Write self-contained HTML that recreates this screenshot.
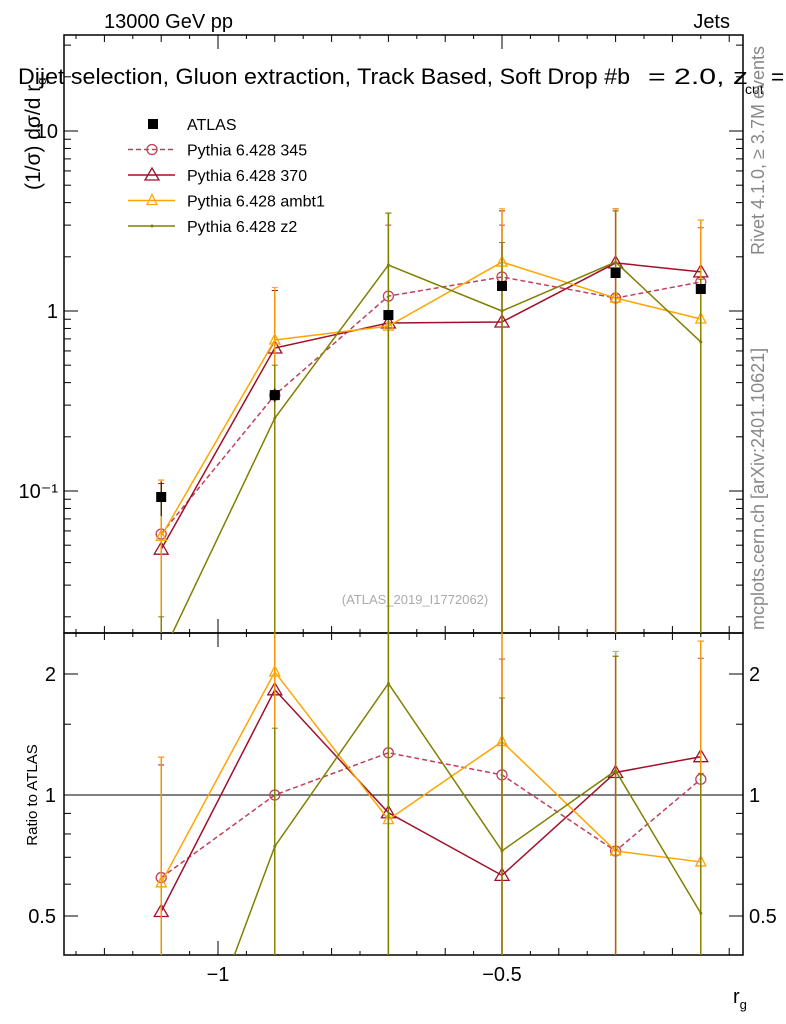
<!DOCTYPE html>
<html><head><meta charset="utf-8"><style>
html,body{margin:0;background:#fff;overflow:hidden;width:786px;height:1024px;}
svg{display:block;font-family:"Liberation Sans",sans-serif;}
</style></head><body>
<svg id="c" width="786" height="1024" viewBox="0 0 786 1024">
<text x="104" y="28" font-size="20">13000 GeV pp</text>
<text x="730" y="28" font-size="20" text-anchor="end">Jets</text>
<g font-size="22.5">
<text x="18" y="84" textLength="612" lengthAdjust="spacingAndGlyphs">Dijet selection, Gluon extraction, Track Based, Soft Drop #b</text>
<text x="648" y="84" textLength="100" lengthAdjust="spacingAndGlyphs">= 2.0, z</text>
<text x="745" y="94" font-size="14">cut</text>
<text x="771" y="84">=</text>
</g>
<text transform="translate(40,190) rotate(-90)" font-size="21">(1/σ) dσ/d r<tspan font-size="13" dy="6">g</tspan></text>
<text transform="translate(764,255) rotate(-90)" font-size="18" fill="#888">Rivet 4.1.0, ≥ 3.7M events</text>
<text transform="translate(764,630) rotate(-90)" font-size="18" fill="#888">mcplots.cern.ch [arXiv:2401.10621]</text>
<text x="415" y="604" font-size="13" fill="#aaa" text-anchor="middle">(ATLAS_2019_I1772062)</text>
<text transform="translate(37,795) rotate(-90)" font-size="15" text-anchor="middle">Ratio to ATLAS</text>
<text x="733" y="1003" font-size="20">r<tspan font-size="13" dy="6">g</tspan></text>
<g id="plot"></g>
</svg>
<script>
const categories=[-1.1,-0.9,-0.7,-0.5,-0.3,-0.15];
const atlas=[0.0926,0.341,0.95,1.377,1.626,1.325];
const atlasErr=[0.02,0.03,0.06,0.08,0.09,0.08];
const p345=[0.0577,0.341,1.21,1.545,1.18,1.45];
const p345Up=[0.115,1.3,3.0,3.0,3.6,2.9];
const p370=[0.0475,0.623,0.858,0.869,1.85,1.65];
const p370Up=[0.11,1.3,3.5,3.6,3.7,3.2];
const ambt1=[0.056,0.69,0.825,1.87,1.18,0.903];
const ambt1Up=[0.115,1.35,3.5,3.7,3.7,3.2];
const z2=[0.012,0.254,1.8,1.0,1.87,0.673];
const z2Up=[0.02,0.5,3.5,2.4,3.6,1.5];
const yTicks=[0.1,1,10];
const yTickLabels=["10⁻¹","1","10"];
const rTicks=[0.5,1,2];
const xTicks=[-1,-0.5];
const xTickLabels=["−1","−0.5"];

const NS="http://www.w3.org/2000/svg";
const g=document.getElementById('plot');
const L=64,R=743,T=35,MB=633,RB=955;
const xs=v=>502+(v+0.5)*568;
const ys=v=>311-180*Math.log10(v);
const rs=v=>795-121*Math.log2(v);
function el(t,a,p){const e=document.createElementNS(NS,t);for(const k in a)e.setAttribute(k,a[k]);(p||g).appendChild(e);return e;}
const defs=el('defs',{});
const clipM=el('clipPath',{id:'cm'},defs);el('rect',{x:L,y:T,width:R-L,height:MB-T},clipM);
const clipR=el('clipPath',{id:'cr'},defs);el('rect',{x:L,y:MB,width:R-L,height:RB-MB},clipR);
let f=el('rect',{x:L,y:T,width:R-L,height:MB-T,fill:'none',stroke:'#000','stroke-width':1.5});

f=el('rect',{x:L,y:MB,width:R-L,height:RB-MB,fill:'none',stroke:'#000','stroke-width':1.5});

let ln=el('line',{x1:L,x2:R,y1:rs(1),y2:rs(1),stroke:'#000'});

for(let v=-1.25;v<=-0.07;v+=0.05){const vv=Math.round(v*100)/100;const maj=Math.abs(vv*2-Math.round(vv*2))<1e-6;const mid=Math.abs(vv*10-Math.round(vv*10))<1e-6;const len=maj?14:(mid?7:4);
 const x=xs(vv);for(const [a,b] of [[T,1],[MB,-1],[MB,1],[RB,-1]])el('line',{x1:x,x2:x,y1:a,y2:a+b*len,stroke:'#000'});}
xTicks.forEach((v,i)=>{const t=el('text',{x:xs(v),y:RB+26,'font-size':20,'text-anchor':'middle'});t.textContent=xTickLabels[i];
});
for(let d=-2;d<=1;d++)for(let m=1;m<10;m++){const v=m*Math.pow(10,d);const y=ys(v);if(y<T||y>MB)continue;const len=m==1?14:7;
 el('line',{x1:L,x2:L+len,y1:y,y2:y,stroke:'#000'});el('line',{x1:R,x2:R-len,y1:y,y2:y,stroke:'#000'});}
yTicks.forEach((v,i)=>{const t=el('text',{x:L-6,y:ys(v)+7,'font-size':20,'text-anchor':'end'});t.textContent=yTickLabels[i];
});
[0.5,0.6,0.7,0.8,0.9,1,1.5,2].forEach(v=>{const len=rTicks.includes(v)?14:7;const y=rs(v);
 el('line',{x1:L,x2:L+len,y1:y,y2:y,stroke:'#000'});el('line',{x1:R,x2:R-len,y1:y,y2:y,stroke:'#000'});});
rTicks.forEach(v=>{for(const [x,a] of [[L-8,'end'],[R+6,'start']]){const t=el('text',{x:x,y:rs(v)+7,'font-size':20,'text-anchor':a});t.textContent=String(v);
}});
const series=[
 {n:'pythia-345',v:p345,u:p345Up,c:'#c0405a',dash:'5,3',m:'circle'},
 {n:'pythia-370',v:p370,u:p370Up,c:'#a0102a',dash:'',m:'tri'},
 {n:'pythia-ambt1',v:ambt1,u:ambt1Up,c:'#ffa500',dash:'',m:'tri-s'},
 {n:'pythia-z2',v:z2,u:z2Up,c:'#808000',dash:'',m:'dot'}];
function marker(m,x,y,c,p){if(m=='circle')return el('circle',{cx:x,cy:y,r:5,fill:'none',stroke:c,'stroke-width':1.3},p);
 if(m=='tri')return el('path',{d:`M${x},${y-7}L${x+7},${y+5}L${x-7},${y+5}Z`,fill:'none',stroke:c,'stroke-width':1.3},p);
 if(m=='tri-s')return el('path',{d:`M${x},${y-6}L${x+5},${y+4}L${x-5},${y+4}Z`,fill:'none',stroke:c,'stroke-width':1.3},p);
 return el('circle',{cx:x,cy:y,r:1.5,fill:c},p);}
series.forEach(s=>{
 const gm=el('g',{'clip-path':'url(#cm)'});
 const gr=el('g',{'clip-path':'url(#cr)'});
 el('polyline',{points:categories.map((c,i)=>xs(c)+','+ys(s.v[i])).join(' '),fill:'none',stroke:s.c,'stroke-width':1.5,'stroke-dasharray':s.dash},gm);
 el('polyline',{points:categories.map((c,i)=>xs(c)+','+rs(s.v[i]/atlas[i])).join(' '),fill:'none',stroke:s.c,'stroke-width':1.5,'stroke-dasharray':s.dash},gr);
 categories.forEach((c,i)=>{const x=xs(c);
  const eb=el('line',{x1:x,x2:x,y1:ys(s.u[i]),y2:MB,stroke:s.c,'stroke-width':1.3},gm);
  
  el('line',{x1:x-3,x2:x+3,y1:ys(s.u[i]),y2:ys(s.u[i]),stroke:s.c},gm);
  el('line',{x1:x,x2:x,y1:rs(s.u[i]/atlas[i]),y2:RB,stroke:s.c,'stroke-width':1.3},gr);
  el('line',{x1:x-3,x2:x+3,y1:rs(s.u[i]/atlas[i]),y2:rs(s.u[i]/atlas[i]),stroke:s.c},gr);
  const mk=marker(s.m,x,ys(s.v[i]),s.c,gm);
  const mr=marker(s.m,x,rs(s.v[i]/atlas[i]),s.c,gr);
 });
});
const ga=el('g',{'clip-path':'url(#cm)'});
categories.forEach((c,i)=>{const x=xs(c),y=ys(atlas[i]);
 el('line',{x1:x,x2:x,y1:ys(atlas[i]+atlasErr[i]),y2:ys(atlas[i]-atlasErr[i]),stroke:'#000'},ga);
 const r=el('rect',{x:x-5,y:y-5,width:10,height:10,fill:'#000'},ga);});
const leg=[['ATLAS',null],['Pythia 6.428 345',series[0]],['Pythia 6.428 370',series[1]],['Pythia 6.428 ambt1',series[2]],['Pythia 6.428 z2',series[3]]];
const lg=el('g',{});
leg.forEach((e,i)=>{const y=124+i*25.5;const ent=el('g',{},lg);
 if(!e[1])el('rect',{x:148,y:y-5,width:10,height:10,fill:'#000'},ent);
 else{el('line',{x1:128,x2:175,y1:y,y2:y,stroke:e[1].c,'stroke-width':1.5,'stroke-dasharray':e[1].dash},ent);marker(e[1].m,152,y,e[1].c,ent);}
 const t=el('text',{x:187,y:y+6,'font-size':16},ent);t.textContent=e[0];});
</script>
</body></html>
